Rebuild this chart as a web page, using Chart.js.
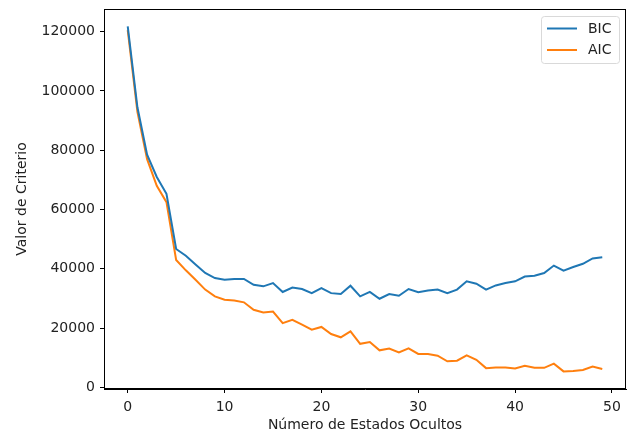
<!DOCTYPE html>
<html>
<head>
<meta charset="utf-8">
<script src="https://cdn.jsdelivr.net/npm/chart.js@4"></script>
<style>
  html, body { margin: 0; padding: 0; background: #fff; }
  #wrap { width: 634px; height: 438px; }
</style>
</head>
<body>
<div id="wrap"><canvas id="chart"></canvas></div>
<script>
const estados = [0, 1, 2, 3, 4, 5, 6, 7, 8, 9, 10, 11, 12, 13, 14, 15, 16, 17, 18, 19,
  20, 21, 22, 23, 24, 25, 26, 27, 28, 29, 30, 31, 32, 33, 34, 35, 36, 37, 38, 39,
  40, 41, 42, 43, 44, 45, 46, 47, 48, 49];

const bic = [121800, 94500, 78500, 71000, 65300, 46700, 44400, 41500, 38600, 36900,
  36300, 36600, 36600, 34600, 34100, 35200, 32200, 33700, 33200, 31800,
  33500, 31800, 31500, 34300, 30700, 32200, 29900, 31500, 30900, 33200,
  32100, 32700, 33000, 31800, 33000, 35800, 35000, 33000, 34400, 35200,
  35800, 37400, 37700, 38600, 41100, 39400, 40600, 41700, 43500, 43900];

const aic = [120500, 93000, 77000, 68000, 62500, 43000, 39500, 36300, 33000, 30700,
  29600, 29300, 28700, 26200, 25300, 25600, 21700, 22800, 21200, 19500,
  20400, 18000, 16900, 18900, 14700, 15300, 12500, 13100, 11800, 13200,
  11300, 11300, 10700, 8800, 9000, 10800, 9300, 6500, 6700, 6700,
  6400, 7300, 6600, 6600, 8000, 5400, 5500, 5900, 7000, 6200];

const xTicks = [0, 10, 20, 30, 40, 50];
const yTicks = [0, 20000, 40000, 60000, 80000, 100000, 120000];

const font = { family: "'DejaVu Sans', sans-serif", size: 14 };

// frame on top/right + matplotlib style legend
const framePlugin = {
  id: "frame",
  afterDraw(chart) {
    const { ctx, chartArea: a } = chart;
    ctx.save();
    ctx.strokeStyle = "#000";
    ctx.lineWidth = 1;
    ctx.strokeRect(Math.round(a.left) + 0.5, Math.round(a.top) + 0.5,
      Math.round(a.right - a.left) - 1, Math.round(a.bottom - a.top) - 1);

    // legend
    const x0 = 541.5, y0 = 16.5, w = 78, h = 47;
    ctx.fillStyle = "rgba(255,255,255,0.8)";
    ctx.strokeStyle = "#d9d9d9";
    ctx.beginPath();
    ctx.roundRect(x0, y0, w, h, 3);
    ctx.fill();
    ctx.stroke();
    ctx.font = "14px 'DejaVu Sans'";
    ctx.textBaseline = "middle";
    chart.data.datasets.forEach((ds, i) => {
      const y = 28.5 + i * 21.5;
      ctx.strokeStyle = ds.borderColor;
      ctx.lineWidth = 2;
      ctx.beginPath();
      ctx.moveTo(547, y);
      ctx.lineTo(577, y);
      ctx.stroke();
      ctx.fillStyle = "#222";
      ctx.fillText(ds.label, 588, y + 0.5);
    });
    ctx.restore();
  }
};

new Chart(document.getElementById("chart"), {
  type: "line",
  data: {
    labels: estados,
    datasets: [
      {
        label: "BIC",
        data: bic.map((v, i) => ({ x: estados[i], y: v })),
        borderColor: "#1f77b4",
        borderWidth: 2,
        pointRadius: 0,
        tension: 0,
      },
      {
        label: "AIC",
        data: aic.map((v, i) => ({ x: estados[i], y: v })),
        borderColor: "#ff7f0e",
        borderWidth: 2,
        pointRadius: 0,
        tension: 0,
      },
    ],
  },
  options: {
    responsive: true,
    maintainAspectRatio: false,
    animation: false,
    layout: { padding: { left: 0, top: 9, right: 8, bottom: 0 } },
    plugins: {
      legend: { display: false },
      tooltip: { enabled: false },
    },
    scales: {
      x: {
        type: "linear",
        min: -2.45,
        max: 51.45,
        afterBuildTicks: (s) => { s.ticks = xTicks.map((v) => ({ value: v })); },
        afterFit: (s) => { s.height = 49; s.paddingLeft = 0; s.paddingRight = 0; },
        grid: { drawOnChartArea: false, drawTicks: true, tickLength: 4, color: "#000" },
        border: { display: true, color: "#000" },
        ticks: { font: font, color: "#222", padding: 6, maxRotation: 0 },
        title: {
          display: true,
          text: "Número de Estados Ocultos",
          font: font,
          color: "#222",
          padding: { top: 0, bottom: 4.5 },
        },
      },
      y: {
        type: "linear",
        min: -540,
        max: 127660,
        afterBuildTicks: (s) => { s.ticks = yTicks.map((v) => ({ value: v })); },
        afterFit: (s) => { s.width = 104; s.paddingTop = 0; s.paddingBottom = 0; },
        grid: { drawOnChartArea: false, drawTicks: true, tickLength: 4, color: "#000" },
        border: { display: true, color: "#000" },
        ticks: { font: font, color: "#222", padding: 5, callback: (v) => String(v) },
        title: {
          display: true,
          text: "Valor de Criterio",
          font: font,
          color: "#222",
          padding: { top: 13.5, bottom: 0 },
        },
      },
    },
  },
  plugins: [framePlugin],
});
</script>
</body>
</html>
